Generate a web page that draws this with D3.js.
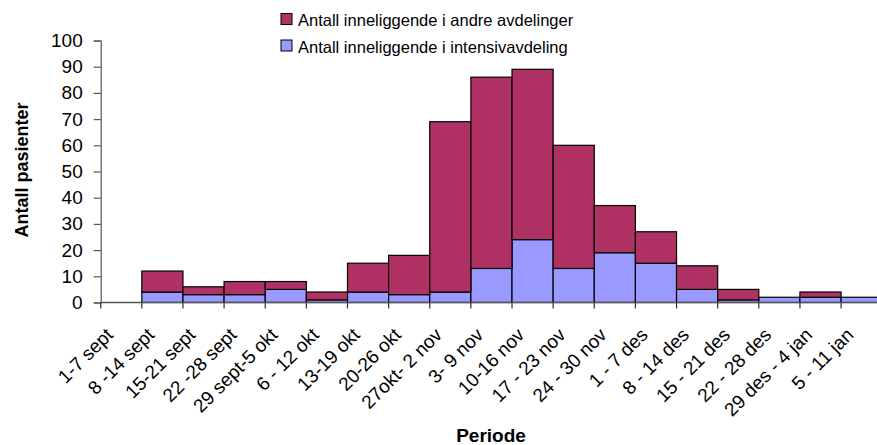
<!DOCTYPE html>
<html>
<head>
<meta charset="utf-8">
<script src="https://cdn.jsdelivr.net/npm/d3@7"></script>
<style>
  html, body { margin: 0; padding: 0; background: #fff; }
  svg { display: block; font-family: "Liberation Sans", Arial, sans-serif; }
</style>
</head>
<body>
<svg id="chart" width="877" height="445"></svg>
<script>
// Weekly periods
const periods = [
  "1-7 sept", "8 -14 sept", "15-21 sept", "22 -28 sept", "29 sept-5 okt",
  "6 - 12 okt", "13-19 okt", "20-26 okt", "27okt- 2 nov", "3- 9 nov",
  "10-16 nov", "17 - 23 nov", "24 - 30 nov", "1 - 7 des", "8 - 14 des",
  "15 - 21 des", "22 - 28 des", "29 des - 4 jan", "5 - 11 jan"
];
// Patients in intensive care units
const intensive = [0, 4, 3, 3, 5, 1, 4, 3, 4, 13, 24, 13, 19, 15, 5, 1, 2, 2, 2];
// Patients in other wards
const otherWards = [0, 8, 3, 5, 3, 3, 11, 15, 65, 73, 65, 47, 18, 12, 9, 4, 0, 2, 0];
const yTicks = [0, 10, 20, 30, 40, 50, 60, 70, 80, 90, 100];

const seriesNames = ["Antall inneliggende i andre avdelinger", "Antall inneliggende i intensivavdeling"];
const colors = { other: "#B03264", intensive: "#9999FF" };

const svg = d3.select("#chart");

const x = d3.scaleBand().domain(periods).range([100.7, 882.2]).padding(0);
const y = d3.scaleLinear().domain([0, 100]).range([302.5, 40.5]);

// Stack: intensive at bottom, other wards on top
const rows = periods.map((p, i) => ({ period: p, intensive: intensive[i], other: otherWards[i] }));
const stacked = d3.stack().keys(["intensive", "other"])(rows);

const layers = svg.append("g").selectAll("g")
  .data(stacked)
  .join("g")
  .attr("fill", d => colors[d.key]);

layers.selectAll("rect")
  .data(d => d.filter(v => v[1] - v[0] > 0))
  .join("rect")
  .attr("x", d => x(d.data.period))
  .attr("width", x.bandwidth())
  .attr("y", d => y(d[1]))
  .attr("height", d => y(d[0]) - y(d[1]))
  .attr("stroke", "#000")
  .attr("stroke-width", 1.2);

// Y axis
const yAxis = d3.axisLeft(y).tickValues(yTicks).tickSize(7).tickPadding(11);
const gy = svg.append("g").attr("transform", "translate(100.7,0)").call(yAxis);
gy.select(".domain").attr("stroke", "#555").attr("stroke-width", 1.2);
gy.selectAll(".tick line").attr("stroke", "#555").attr("stroke-width", 1.2);
gy.selectAll(".tick text").attr("font-size", 19).attr("fill", "#000")
  .attr("font-family", "'Liberation Sans', Arial, sans-serif");

// X axis: ticks between categories
const edges = periods.map(p => x(p)).concat([x(periods[periods.length - 1]) + x.bandwidth()]);
const gx = svg.append("g");
gx.append("line")
  .attr("x1", 100.7).attr("x2", 882.2)
  .attr("y1", y(0)).attr("y2", y(0))
  .attr("stroke", "#555").attr("stroke-width", 1.4);
gx.selectAll("line.tk")
  .data(edges)
  .join("line")
  .attr("class", "tk")
  .attr("x1", d => d).attr("x2", d => d)
  .attr("y1", y(0)).attr("y2", y(0) + 6)
  .attr("stroke", "#333").attr("stroke-width", 1.2);

gx.selectAll("text.lbl")
  .data(periods)
  .join("text")
  .attr("class", "lbl")
  .attr("text-anchor", "end")
  .attr("font-size", 19)
  .attr("transform", d => `translate(${x(d) + x.bandwidth() / 2 - 7},336) rotate(-45)`)
  .text(d => d);

// Axis titles
svg.append("text")
  .attr("transform", "translate(28,170) rotate(-90)")
  .attr("text-anchor", "middle")
  .attr("font-size", 18)
  .attr("font-weight", "bold")
  .text("Antall pasienter");

svg.append("text")
  .attr("x", 491).attr("y", 442)
  .attr("text-anchor", "middle")
  .attr("font-size", 19)
  .attr("font-weight", "bold")
  .text("Periode");

// Legend
const legend = svg.append("g");
const legendItems = [
  { name: seriesNames[0], color: colors.other, y: 13.5 },
  { name: seriesNames[1], color: colors.intensive, y: 40 }
];
legendItems.forEach(it => {
  legend.append("rect")
    .attr("x", 281).attr("y", it.y)
    .attr("width", 11).attr("height", 11)
    .attr("fill", it.color)
    .attr("stroke", "#000").attr("stroke-width", 1);
  legend.append("text")
    .attr("x", 298).attr("y", it.y + 12.5)
    .attr("font-size", 16.5)
    .text(it.name);
});
</script>
</body>
</html>
